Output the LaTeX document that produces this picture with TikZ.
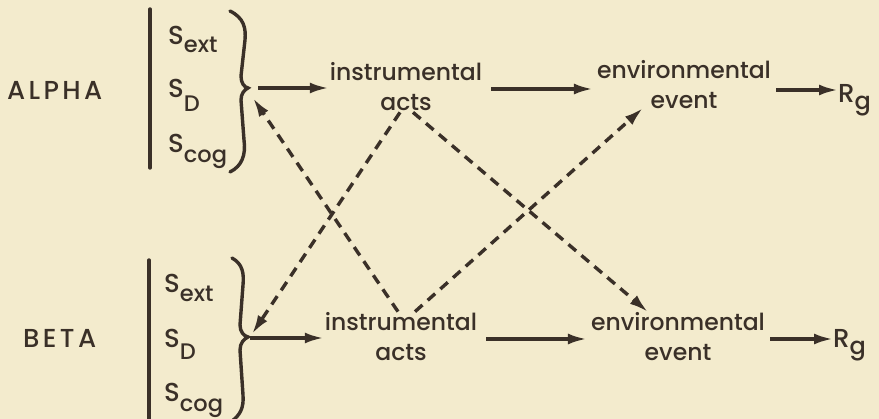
\documentclass[tikz,border=0pt]{standalone}
\usepackage{fontspec}
\setmainfont{Poppins}[UprightFont=* Medium]
\usetikzlibrary{arrows.meta}
\definecolor{paper}{RGB}{243,235,205}
\definecolor{ink}{RGB}{58,48,40}
\begin{document}
\begin{tikzpicture}[x=1pt,y=-1pt,
  lbl/.style={font=\fontsize{23.5}{30}\selectfont, text=ink, inner sep=1pt, align=center},
  sym/.style={font=\fontsize{26}{28}\selectfont, text=ink, inner sep=0pt, anchor=base west},
  arr/.style={-{Latex[length=19pt,width=11pt]}, line width=3.4pt, draw=ink},
  darr/.style={arr, dash pattern=on 10pt off 7pt},
  stroke/.style={line width=3.4pt, draw=ink, line cap=round}]
\useasboundingbox[fill=paper] (0,0) rectangle (879,419);

% ALPHA
\node[sym] (alpha) at (7,100) {\addfontfeatures{LetterSpace=13}ALPHA};
\draw[stroke] (150,9) -- (150,168);
\node[sym] (asext) at (168,45) {S\raisebox{-8pt}{\fontsize{22.5}{22}\selectfont ext}};
\node[sym] (asd) at (168,98) {S\raisebox{-14pt}{\fontsize{22.5}{22}\selectfont D}};
\node[sym] (ascog) at (168,153) {S\raisebox{-10pt}{\fontsize{22.5}{22}\selectfont cog}};
\draw[stroke] (230,11) .. controls (244,18) and (246,28) .. (245,40) -- (241,76)
  .. controls (241,83) and (244,87) .. (248,88) .. controls (244,90) and (241,94) .. (241,100)
  -- (244,140) .. controls (246,155) and (242,166) .. (230,172);
\coordinate (abr) at (248,88);
\node[lbl] (aacts) at (406,87) {instrumental\\acts};
\node[lbl] (aenv) at (684,85) {environmental\\event};
\node[sym] (arg) at (838,103) {R\raisebox{-7pt}{\fontsize{24}{24}\selectfont g}};

% BETA
\node[sym] (beta) at (23,348) {\addfontfeatures{LetterSpace=13}BETA};
\draw[stroke] (149,260) -- (149,422);
\node[sym] (bsext) at (164,293) {S\raisebox{-9pt}{\fontsize{22.5}{22}\selectfont ext}};
\node[sym] (bsd) at (164,348) {S\raisebox{-12pt}{\fontsize{22.5}{22}\selectfont D}};
\node[sym] (bscog) at (164,402) {S\raisebox{-10pt}{\fontsize{22.5}{22}\selectfont cog}};
\draw[stroke] (232,258) .. controls (243,264) and (244,274) .. (243,285) -- (240,325)
  .. controls (240,332) and (244,336) .. (248,337) .. controls (244,339) and (240,343) .. (240,350)
  -- (243,395) .. controls (244,408) and (240,415) .. (232,421);
\coordinate (bbr) at (248,338);
\node[lbl] (bacts) at (401,337) {instrumental\\acts};
\node[lbl] (benv) at (678,337) {environmental\\event};
\node[sym] (brg) at (833,348) {R\raisebox{-7pt}{\fontsize{24}{24}\selectfont g}};

% solid arrows
\draw[arr, shorten <=10pt] (abr) -- (aacts.west |- abr);
\draw[arr, shorten <=8pt, shorten >=3pt] ([yshift=-2pt]aacts.east) -- ([yshift=-4pt]aenv.west);
\draw[arr, shorten <=4pt] ([yshift=-5pt]aenv.east) -- ([yshift=-5pt]aenv.east -| arg.west);
\draw[arr, shorten <=2pt] (bbr) -- (bacts.west |- bbr);
\draw[arr, shorten <=8pt, shorten >=3pt] ([yshift=-2pt]bacts.east) -- ([yshift=-2pt]benv.west);
\draw[arr, shorten <=4pt] ([yshift=-2pt]benv.east) -- ([yshift=-2pt]benv.east -| brg.west);

% dashed cross links
\draw[darr] ([xshift=-6pt]aacts.south) -- ([xshift=4pt,yshift=4pt]bbr);
\draw[darr] ([xshift=7pt]aacts.south) -- ([xshift=-30pt,yshift=25pt]benv.center);
\draw[darr] ([xshift=-3pt]bacts.north) -- ([xshift=5pt,yshift=-10pt]abr);
\draw[darr] ([xshift=14pt]bacts.north) -- ([xshift=-41pt,yshift=-23pt]aenv.center);
\end{tikzpicture}
\end{document}
